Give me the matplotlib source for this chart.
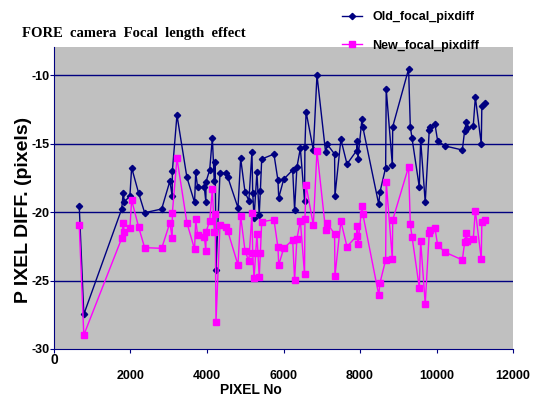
import numpy as np
import matplotlib.pyplot as plt

plt.rcParams["font.family"] = ["Liberation Sans", "DejaVu Sans"]

# pixel numbers (shared by both series)
pixel_no = [660, 780, 1770, 1810, 1840, 1985, 2030, 2215, 2370, 2815,
            3030, 3090, 3095, 3215, 3475, 3675, 3705, 3755, 3930, 3970,
            3975, 4070, 4140, 4190, 4215, 4235, 4340, 4490, 4540, 4810,
            4880, 4995, 5095, 5175, 5195, 5230, 5305, 5365, 5395, 5430,
            5750, 5855, 5875, 6005, 6240, 6290, 6350, 6440, 6550, 6560,
            6590, 6780, 6875, 7100, 7145, 7335, 7345, 7500, 7660, 7910,
            7930, 7945, 8050, 8075, 8490, 8520, 8670, 8685, 8845, 8855,
            9270, 9315, 9360, 9550, 9585, 9705, 9810, 9830, 9960, 10030,
            10230, 10675, 10735, 10780, 10805, 10960, 11015, 11170, 11185, 11260]

old_focal = [-19.54, -27.47, -19.78, -18.59, -19.25, -18.83, -16.76, -18.64, -20.05, -19.78,
             -17.74, -18.83, -17.00, -12.92, -17.47, -19.30, -17.11, -18.20, -18.20, -19.25,
             -17.79, -16.93, -14.58, -17.74, -16.37, -24.23, -17.13, -17.18, -17.42, -19.69,
             -16.08, -18.56, -19.17, -15.60, -18.59, -20.42, -17.11, -20.22, -18.47, -16.13,
             -15.77, -17.69, -18.96, -17.61, -16.93, -19.85, -16.74, -15.35, -19.17, -15.23,
             -12.68, -15.47, -10.00, -15.62, -15.06, -15.77, -18.81, -14.69, -16.50, -15.52,
             -14.82, -16.11, -13.24, -13.82, -19.44, -18.56, -16.76, -11.02, -16.57, -13.77,
             -9.56, -13.77, -14.62, -18.18, -14.72, -19.30, -14.01, -13.82, -13.60, -14.82,
             -15.18, -15.47, -14.06, -13.41, -13.89, -13.72, -11.61, -15.04, -12.24, -12.07]

new_focal = [-20.95, -28.98, -21.92, -20.82, -21.48, -21.19, -19.12, -21.12, -22.60, -22.65,
             -20.78, -21.92, -20.05, -16.08, -20.78, -22.72, -20.53, -21.68, -21.80, -22.85,
             -21.44, -20.66, -18.32, -21.48, -20.15, -28.05, -20.95, -21.07, -21.36, -23.87,
             -20.29, -22.85, -23.58, -20.10, -23.02, -24.84, -21.61, -24.77, -23.02, -20.71,
             -20.56, -22.58, -23.87, -22.65, -22.04, -24.96, -21.97, -20.63, -24.53, -20.53,
             -18.05, -20.95, -15.55, -21.31, -20.82, -21.61, -24.67, -20.68, -22.53, -21.75,
             -21.02, -22.34, -19.56, -20.17, -26.06, -25.20, -23.50, -17.78, -23.43, -20.58,
             -16.69, -20.90, -21.80, -25.53, -22.09, -26.72, -21.51, -21.31, -21.19, -22.43,
             -22.94, -23.50, -22.21, -21.51, -22.09, -21.97, -19.90, -23.43, -20.71, -20.58]

x_ticks = [0, 2000, 4000, 6000, 8000, 10000, 12000]
y_ticks = [-30, -25, -20, -15, -10]

navy = "#000080"
magenta = "#FF00FF"

fig = plt.figure(figsize=(5.43, 4.01), dpi=100)
ax = fig.add_axes([0.0994, 0.1297, 0.8454, 0.7531])
ax.set_facecolor("#C0C0C0")

ax.plot(pixel_no, old_focal, color=navy, lw=1, marker="D", ms=3.2,
        mfc=navy, mec=navy, label="Old_focal_pixdiff", zorder=3)
ax.plot(pixel_no, new_focal, color=magenta, lw=1, marker="s", ms=3.8,
        mfc=magenta, mec=magenta, label="New_focal_pixdiff", zorder=3)

ax.set_xlim(0, 12000)
ax.set_ylim(-30, -7.95)
ax.set_xticks(x_ticks)
ax.set_yticks(y_ticks)
ax.set_xticklabels([""] + [str(t) for t in x_ticks[1:]])
ax.set_yticklabels([str(t) for t in y_ticks])
ax.annotate("0", xy=(0, -30), xytext=(0, -8), textcoords="offset points",
            ha="center", va="center", fontsize=10, fontweight="bold",
            annotation_clip=False)

for t in y_ticks[1:]:
    ax.axhline(t, color=navy, lw=1, zorder=1)

for s in ["top", "right"]:
    ax.spines[s].set_visible(False)
ax.spines["left"].set_color(navy)
ax.spines["bottom"].set_color(navy)

ax.tick_params(axis="x", colors=navy, length=3, pad=12, labelcolor="black",
               labelsize=9)
ax.tick_params(axis="y", colors=navy, length=3, pad=0, labelcolor="black",
               labelsize=9)
for lab in ax.get_xticklabels() + ax.get_yticklabels():
    lab.set_fontweight("bold")

ax.set_xlabel("PIXEL No", fontsize=10, fontweight="bold")
ax.xaxis.set_label_coords(0.43, -0.112)
ax.set_ylabel("P IXEL DIFF. (pixels)", fontsize=14, fontweight="bold")
ax.yaxis.set_label_coords(-0.047, 0.46)

fig.text(22 / 543, 1 - 33 / 401, "FORE  camera  Focal  length  effect",
         ha="left", va="center", family="Liberation Serif", fontsize=10.5,
         fontweight="bold")

fig.legend(loc="upper left", bbox_to_anchor=(0.61, 1.0), frameon=False,
           prop={"size": 9, "weight": "bold"}, handlelength=1.6,
           labelspacing=1.3, handletextpad=0.8)

fig.savefig("out.png", dpi=100)
